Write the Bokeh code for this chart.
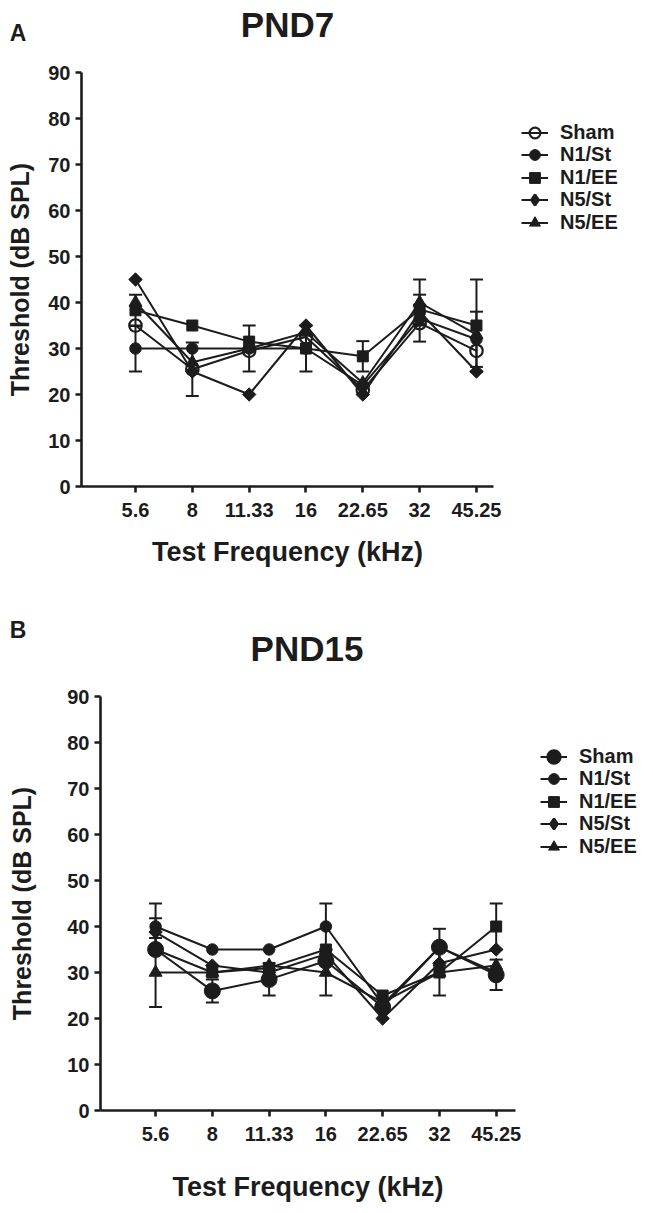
import math
from bokeh.plotting import figure
from bokeh.models import (Range1d, FixedTicker, Whisker, TeeHead, ColumnDataSource,
                          Legend, LegendItem, Label)
from bokeh.layouts import column
from bokeh.embed import file_html
from bokeh.resources import INLINE

# ---------------- data ----------------
freqs = ["5.6", "8", "11.33", "16", "22.65", "32", "45.25"]
groups = ["Sham", "N1/St", "N1/EE", "N5/St", "N5/EE"]

# PND7 thresholds (dB SPL)
pnd7_sham = [35, 25.5, 29.5, 32.5, 21, 35.5, 29.5]
pnd7_n1st = [30, 30, 30, 30, 22, 36.5, 32]
pnd7_n1ee = [38.3, 35, 31.5, 30, 28.3, 38.5, 35]
pnd7_n5st = [45, 25, 20, 35, 20, 38, 25]
pnd7_n5ee = [40, 27, 30, 33.5, 22.5, 40, 33]
# PND7 error (SEM)
pnd7_sham_err = [0, 5.8, 0, 0, 0, 4, 0]
pnd7_n1st_err = [5, 0, 5, 5, 0, 0, 6]
pnd7_n1ee_err = [3.4, 0, 0, 0, 3.3, 3.2, 10]
pnd7_n5st_err = [0, 0, 0, 0, 0, 0, 0]
pnd7_n5ee_err = [0, 0, 0, 0, 0, 5, 0]

# PND15 thresholds (dB SPL)
pnd15_sham = [35, 26, 28.5, 32.5, 22.5, 35.5, 29.5]
pnd15_n1st = [40, 35, 35, 40, 23, 35.5, 30]
pnd15_n1ee = [35, 30, 31, 35, 25, 30, 40]
pnd15_n5st = [38.8, 31.5, 30, 34, 20, 32, 35]
pnd15_n5ee = [30, 30, 31.5, 30, 23.5, 30, 31.5]
# PND15 error (SEM)
pnd15_sham_err = [0, 2.5, 3.5, 0, 0, 4, 3.3]
pnd15_n1st_err = [5, 0, 0, 5, 0, 0, 0]
pnd15_n1ee_err = [0, 0, 0, 0, 0, 5, 5]
pnd15_n5st_err = [3, 0, 0, 0, 0, 0, 0]
pnd15_n5ee_err = [7.5, 0, 0, 5, 0, 0, 0]

INK = "#1c1c1c"
FONT = "Liberation Sans"


def make_panel(series, errs, sham_filled, sham_size, width, height,
               axis_left_px, axis_bottom_px, x_lo, x_hi, px_per_x, px_per_y,
               title, letter, title_px, letter_px, legend_x, legend_y0, legend_step,
               ylab_standoff, xlab_standoff):
    # the whole canvas is the frame; axes are drawn at fixed data locations
    x_start = x_lo - axis_left_px / px_per_x
    x_end = x_lo + (width - axis_left_px) / px_per_x
    y_end = axis_bottom_px / px_per_y
    y_start = -(height - axis_bottom_px) / px_per_y

    def dx(px):
        return x_lo + (px - axis_left_px) / px_per_x

    def dy(py):
        return (axis_bottom_px - py) / px_per_y

    p = figure(width=width, height=height, x_range=Range1d(x_start, x_end),
               y_range=Range1d(y_start, y_end), output_backend="svg",
               toolbar_location=None, min_border=0)
    p.title.visible = False
    p.xgrid.visible = False
    p.ygrid.visible = False
    p.outline_line_color = None

    xa, ya = p.xaxis[0], p.yaxis[0]
    xa.fixed_location = 0
    ya.fixed_location = x_lo
    xa.bounds = (x_lo, x_hi)
    ya.bounds = (0, 90)
    xa.ticker = FixedTicker(ticks=list(range(1, len(freqs) + 1)))
    xa.major_label_overrides = {i + 1: f for i, f in enumerate(freqs)}
    ya.ticker = FixedTicker(ticks=list(range(0, 91, 10)))
    for ax in (xa, ya):
        ax.axis_line_width = 2.6
        ax.axis_line_color = INK
        ax.major_tick_line_width = 2.6
        ax.major_tick_line_color = INK
        ax.major_tick_out = 6
        ax.major_tick_in = 0
        ax.minor_tick_line_color = None
        ax.major_label_text_font = FONT
        ax.major_label_text_font_style = "bold"
        ax.major_label_text_font_size = "20px"
        ax.major_label_text_color = INK
        ax.axis_label_text_font = FONT
        ax.axis_label_text_font_style = "bold"
        ax.axis_label_text_color = INK
    xa.axis_label_text_font_size = "27px"
    ya.axis_label_text_font_size = "25px"
    xa.major_label_standoff = 10
    ya.major_label_standoff = 5
    xa.axis_label = "Test Frequency (kHz)"
    ya.axis_label = "Threshold (dB SPL)"
    ya.axis_label_standoff = ylab_standoff
    xa.axis_label_standoff = xlab_standoff

    xs = list(range(1, len(freqs) + 1))
    markers = ["circle", "circle", "square", "square", "triangle"]
    sizes = [sham_size, 11.5, 11, 9.5, 13]
    angles = [0, 0, 0, math.pi / 4, 0]

    # error bars
    for vals, err in zip(series, errs):
        bx = [x for x, e in zip(xs, err) if e > 0]
        up = [v + e for v, e in zip(vals, err) if e > 0]
        lo = [v - e for v, e in zip(vals, err) if e > 0]
        if bx:
            src = ColumnDataSource(dict(base=bx, upper=up, lower=lo))
            w = Whisker(source=src, base="base", upper="upper", lower="lower",
                        line_color=INK, line_width=2,
                        upper_head=TeeHead(size=13, line_width=2, line_color=INK),
                        lower_head=TeeHead(size=13, line_width=2, line_color=INK))
            p.add_layout(w)

    line_rs = [p.line(xs, vals, line_color=INK, line_width=2) for vals in series]
    for i, (g, vals) in enumerate(zip(groups, series)):
        if i == 0 and not sham_filled:
            sr = p.scatter(xs, vals, marker="circle", size=sizes[i], line_color=INK,
                           line_width=2.2, fill_alpha=0)
            leg_r = sr
        else:
            sr = p.scatter(xs, vals, marker=markers[i], size=sizes[i], angle=angles[i],
                           line_color=INK, fill_color=INK, line_width=1)
            leg_r = sr
            if i == 0:
                # legend-only proxy: larger filled circle for Sham
                leg_r = p.scatter(xs, vals, marker="circle", line_color=INK,
                                  fill_color=INK, line_width=4.5, visible=False)
            elif i == 3:
                # legend-only proxy: legend glyphs ignore angle, so use a diamond
                leg_r = p.scatter(xs, vals, marker="diamond", line_color=INK,
                                  fill_color=INK, line_width=2.5, visible=False)
        # one single-entry legend per group, so that the rows can sit closer together
        centre = legend_y0 + i * legend_step
        leg = Legend(items=[LegendItem(label=g, renderers=[line_rs[i], leg_r])],
                     location=(legend_x, height - (centre + 13.5)),
                     margin=0, padding=0, border_line_color=None, background_fill_alpha=0,
                     label_text_font=FONT, label_text_font_style="bold",
                     label_text_font_size="20px", label_text_color=INK,
                     glyph_width=27, glyph_height=27, label_height=20,
                     label_standoff=12, spacing=0)
        p.add_layout(leg, "center")

    p.add_layout(Label(x=dx(title_px[0]), y=dy(title_px[1]), text=title,
                       text_align="center", text_baseline="middle", text_font=FONT,
                       text_font_style="bold", text_font_size="35px", text_color=INK))
    p.add_layout(Label(x=dx(letter_px[0]), y=dy(letter_px[1]), text=letter,
                       text_align="center", text_baseline="middle", text_font=FONT,
                       text_font_style="bold", text_font_size="23px", text_color=INK))
    return p


# panel A occupies page y 0..600, panel B 600..1210
pA = make_panel([pnd7_sham, pnd7_n1st, pnd7_n1ee, pnd7_n5st, pnd7_n5ee],
                [pnd7_sham_err, pnd7_n1st_err, pnd7_n1ee_err, pnd7_n5st_err, pnd7_n5ee_err],
                sham_filled=False, sham_size=12.5, width=653, height=600,
                axis_left_px=81, axis_bottom_px=486, x_lo=0.05, x_hi=7.3,
                px_per_x=56.83, px_per_y=4.6,
                title="PND7", letter="A", title_px=(287, 23.5), letter_px=(17.5, 32.5),
                legend_x=521, legend_y0=132, legend_step=22.6,
                ylab_standoff=11, xlab_standoff=17)

pB = make_panel([pnd15_sham, pnd15_n1st, pnd15_n1ee, pnd15_n5st, pnd15_n5ee],
                [pnd15_sham_err, pnd15_n1st_err, pnd15_n1ee_err, pnd15_n5st_err, pnd15_n5ee_err],
                sham_filled=True, sham_size=16, width=653, height=610,
                axis_left_px=100, axis_bottom_px=510, x_lo=0.03, x_hi=7.34,
                px_per_x=56.77, px_per_y=4.6,
                title="PND15", letter="B", title_px=(306.5, 48), letter_px=(17.5, 29),
                legend_x=540, legend_y0=156, legend_step=22.5,
                ylab_standoff=28, xlab_standoff=28)

layout = column(pA, pB, spacing=0)
open("out.html", "w").write(file_html(layout, INLINE))
